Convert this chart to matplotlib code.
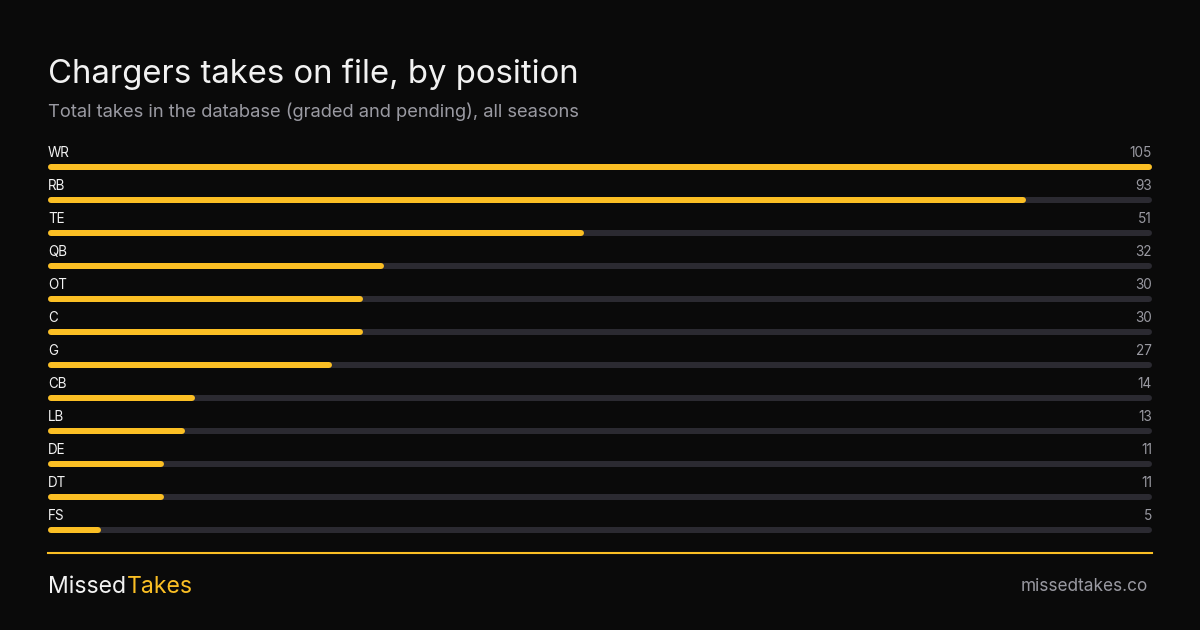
import matplotlib
matplotlib.use("Agg")
import matplotlib.pyplot as plt

# datos
posiciones = ["WR", "RB", "TE", "QB", "OT", "C", "G", "CB", "LB", "DE", "DT", "FS"]
tomas = [105, 93, 51, 32, 30, 30, 27, 14, 13, 11, 11, 5]
maximo = 105

titulo = "Chargers takes on file, by position"
subtitulo = "Total takes in the database (graded and pending), all seasons"

FONDO = "#0a0a0a"
AMARILLO = "#fbbf24"
PISTA = "#2b2a31"
BLANCO = "#f2f2f2"
GRIS = "#9a9aa2"

plt.rcParams["font.family"] = ["Inter", "DejaVu Sans"]

W, H = 1200, 630
fig = plt.figure(figsize=(W / 100, H / 100), dpi=100, facecolor=FONDO)

def fx(px):
    return px / W

def fy(py):
    return 1 - py / H

# titulo y subtitulo
fig.text(fx(48), fy(83), titulo, color=BLANCO, fontsize=23.7, va="baseline", ha="left")
fig.text(fx(48), fy(117), subtitulo, color=GRIS, fontsize=13.25, va="baseline", ha="left")

# eje de barras: filas de 33 px, de 150 a 546
ax = fig.add_axes([fx(48), fy(546), fx(1104), (546 - 150) / H])
ax.set_facecolor(FONDO)
ax.set_xlim(0, maximo)
ax.set_ylim(len(posiciones) - 0.5, -0.5)
ax.axis("off")

grosor = 6 * 72 / 100  # 6 px
c = 3 * maximo / 1104  # medio grosor en unidades de datos
for i, (pos, val) in enumerate(zip(posiciones, tomas)):
    ax.plot([c, maximo - c], [i + 0.01, i + 0.01], color=PISTA, lw=grosor, solid_capstyle="round")
    ax.plot([c, val - c], [i + 0.01, i + 0.01], color=AMARILLO, lw=grosor, solid_capstyle="round")
    ax.text(0, i - 0.28, pos, color=BLANCO, fontsize=9.7, va="baseline", ha="left")
    ax.text(maximo, i - 0.28, str(val), color=GRIS, fontsize=9.8, va="baseline", ha="right")

# linea divisoria
fig.add_artist(plt.Line2D([fx(48), fx(1152)], [fy(553), fy(553)], color=AMARILLO, lw=1.5))

# pie
t1 = fig.text(fx(48), fy(593), "Missed", color=BLANCO, fontsize=16.6, va="baseline", ha="left")
fig.canvas.draw()
bb = t1.get_window_extent(renderer=fig.canvas.get_renderer())
fig.text(bb.x1 / W + fx(1), fy(593), "Takes", color=AMARILLO, fontsize=16.6, va="baseline", ha="left")
fig.text(fx(1148), fy(591), "missedtakes.co", color=GRIS, fontsize=12.4, va="baseline", ha="right")

fig.savefig("out.png", dpi=100, facecolor=FONDO)
